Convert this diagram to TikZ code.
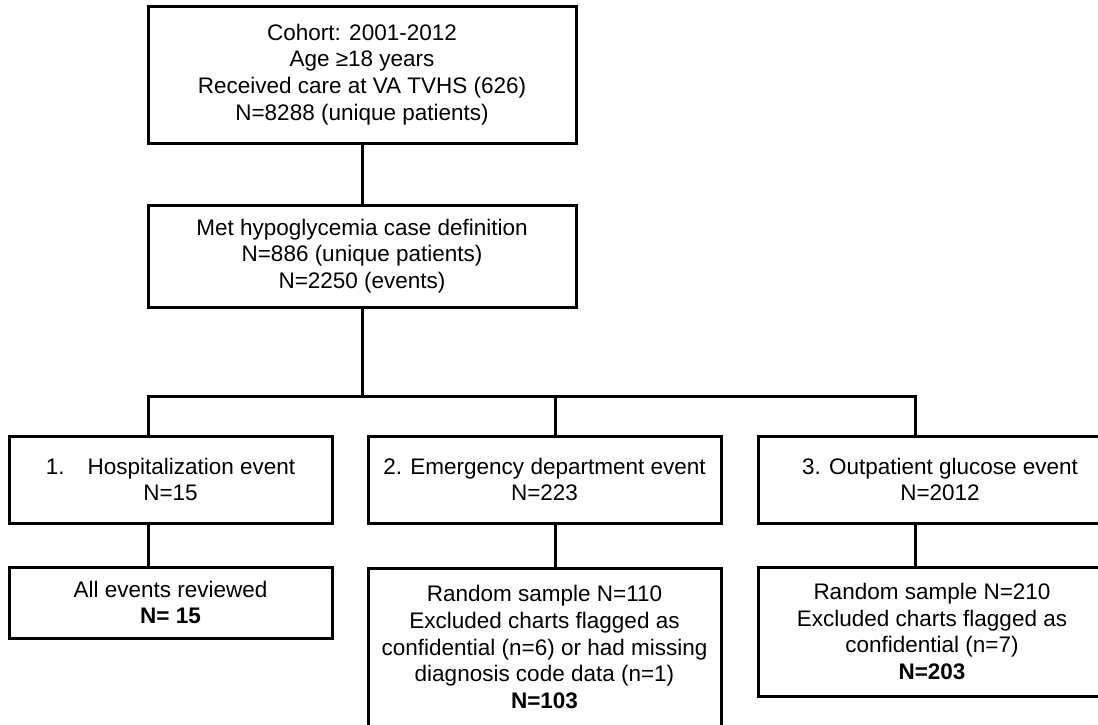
\documentclass[tikz,border=0pt]{standalone}
\usepackage{fontspec}
\setmainfont{Liberation Sans}
\begin{document}
\begin{tikzpicture}[x=1pt,y=-1pt,
  box/.style={draw=black, line width=3pt, inner sep=0pt, align=center,
    font=\fontsize{22.5}{26.7}\selectfont},
  link/.style={draw=black, line width=3pt}]
\useasboundingbox (0,0) rectangle (1098,724);
\clip (0,0) rectangle (1098,724);
\fill[white] (0,0) rectangle (1098,724);
\node[box, minimum width=428pt, minimum height=137pt] (top) at (362,74.5)
  {Cohort: 2001-2012\\Age ≥18 years\\Received care at VA TVHS (626)\\N=8288 (unique patients)};
\node[box, minimum width=428pt, minimum height=102pt] (mid) at (362,256)
  {Met hypoglycemia case definition\\N=886 (unique patients)\\N=2250 (events)};
\node[box, minimum width=323pt, minimum height=87pt] (b1) at (170.5,479.5)
  {1.\hspace{23pt}Hospitalization event\\N=15};
\node[box, minimum width=353pt, minimum height=87pt] (b2) at (544.5,479.5)
  {2. Emergency department event\\N=223};
\node[box, minimum width=364pt, minimum height=87pt] (b3) at (940,479.5)
  {3. Outpatient glucose event\\N=2012};
\node[box, minimum width=323pt, minimum height=71pt] (b4) at (170.5,602.5)
  {All events reviewed\\\textbf{N= 15}};
\node[box, minimum width=353pt, minimum height=158pt] (b5) at (544.5,647)
  {Random sample N=110\\Excluded charts flagged as\\confidential (n=6) or had missing\\diagnosis code data (n=1)\\\textbf{N=103}};
\node[box, minimum width=348pt, minimum height=129pt] (b6) at (932,631.5)
  {Random sample N=210\\Excluded charts flagged as\\confidential (n=7)\\\textbf{N=203}};
\coordinate (split) at (362,396);
\coordinate (hl) at (148,396);
\coordinate (c2) at (555,396);
\coordinate (hr) at (915,396);
\draw[link] (top) -- (mid);
\draw[link] (mid.south) -- (split);
\draw[link] (hl |- b1.north) -- (hl) -- (hr) -- (hr |- b3.north);
\draw[link] (c2) -- (c2 |- b2.north);
\draw[link] (b1.south -| hl) -- (b4.north -| hl);
\draw[link] (b2.south -| c2) -- (b5.north -| c2);
\draw[link] (b3.south -| hr) -- (b6.north -| hr);
\end{tikzpicture}
\end{document}
